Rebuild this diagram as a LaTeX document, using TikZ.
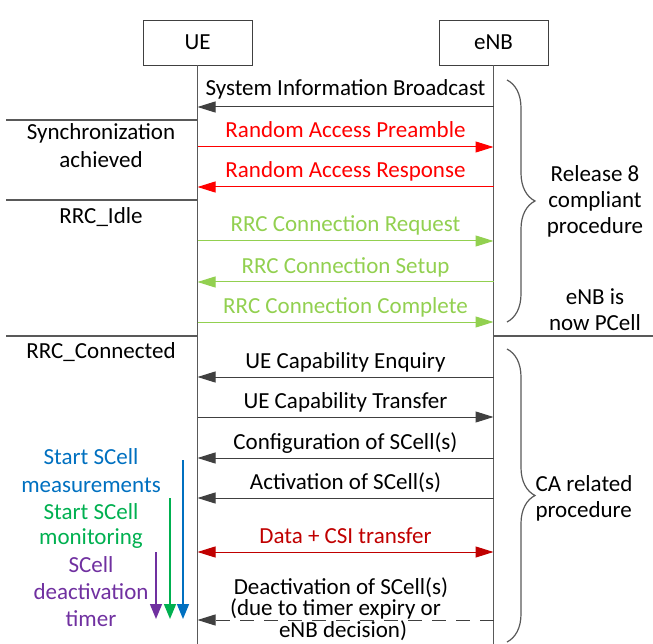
\documentclass[tikz,border=0pt]{standalone}
\usepackage{fontspec}
\setmainfont{Carlito}
\usetikzlibrary{arrows.meta,decorations.pathreplacing}
\definecolor{ln}{HTML}{404040}
\definecolor{lifeg}{HTML}{595959}
\definecolor{rared}{HTML}{FF0000}
\definecolor{rrcg}{HTML}{92D050}
\definecolor{dred}{HTML}{C00000}
\definecolor{sblue}{HTML}{0070C0}
\definecolor{sgreen}{HTML}{00B050}
\definecolor{spurple}{HTML}{7030A0}
\tikzset{
  txt/.style={font=\fontsize{23}{26}\selectfont, inner sep=0pt, text=black},
  actor/.style={draw=ln, line width=0.8pt, minimum width=109pt, minimum height=45pt, font=\fontsize{23}{26}\selectfont},
  life/.style={draw=lifeg, line width=1.2pt},
  sep/.style={draw=lifeg, line width=1.2pt},
  tip/.style={-{Triangle[length=18pt,width=11pt]}},
  msg/.style={tip, draw=ln, color=ln, line width=1pt},
  lbl/.style={txt, anchor=base, yshift=9pt},
  brc/.style={draw=lifeg, line width=1.2pt, decorate, decoration={brace, amplitude=28pt}},
  vtip/.style={-{Triangle[length=15pt,width=12pt]}, line width=1.5pt},
}
\begin{document}
\begin{tikzpicture}[x=1pt,y=-1pt]
\useasboundingbox (0,0) rectangle (653,644);
% actors
\node[actor] (UE) at (197.5,42.5) {UE};
\node[actor] (ENB) at (493.5,42.5) {eNB};
\coordinate (ueEnd) at (197,646);
\coordinate (enbEnd) at (494,646);
\draw[life] (UE.south) -- (UE.south |- ueEnd);
\draw[life] (ENB.south) -- (ENB.south |- enbEnd);
% y levels
\foreach \n/\y in {m1/107, m2/147, m3/187, m4/241, m5/282, m6/322, m7/377, m8/417, m9/458, m10/498, m11/552, m12/620}
  \coordinate (\n) at (0,\y);
% messages
\draw[msg] (ENB.south |- m1) -- node[lbl, yshift=2pt] (t1) {System Information Broadcast} (UE.south |- m1);
\draw[msg, draw=rared, color=rared] (UE.south |- m2) -- node[lbl, text=rared] (t2) {Random Access Preamble} (ENB.south |- m2);
\draw[msg, draw=rared, color=rared] (ENB.south |- m3) -- node[lbl, text=rared] (t3) {Random Access Response} (UE.south |- m3);
\draw[msg, draw=rrcg, color=rrcg] (UE.south |- m4) -- node[lbl, text=rrcg] (t4) {RRC Connection Request} (ENB.south |- m4);
\draw[msg, draw=rrcg, color=rrcg] (ENB.south |- m5) -- node[lbl, text=rrcg] (t5) {RRC Connection Setup} (UE.south |- m5);
\draw[msg, draw=rrcg, color=rrcg] (UE.south |- m6) -- node[lbl, text=rrcg] (t6) {RRC Connection Complete} (ENB.south |- m6);
\draw[msg] (ENB.south |- m7) -- node[lbl] (t7) {UE Capability Enquiry} (UE.south |- m7);
\draw[msg] (UE.south |- m8) -- node[lbl] (t8) {UE Capability Transfer} (ENB.south |- m8);
\draw[msg] (ENB.south |- m9) -- node[lbl] (t9) {Configuration of SCell(s)} (UE.south |- m9);
\draw[msg] (ENB.south |- m10) -- node[lbl] (t10) {Activation of SCell(s)} (UE.south |- m10);
\draw[{Triangle[length=18pt,width=11pt]}-{Triangle[length=18pt,width=11pt]}, draw=dred, color=dred, line width=1pt] (UE.south |- m11) -- node[lbl, text=dred] (t11) {Data + CSI transfer} (ENB.south |- m11);
\draw[msg, dash pattern=on 14pt off 10pt] (ENB.south |- m12) -- (UE.south |- m12);
\node[txt, align=center, font=\fontsize{23}{15}\selectfont] (t12a) at (341,598) {Deactivation of SCell(s)\\(due to timer expiry or\hspace*{11pt}};
\node[txt, anchor=base] (t12c) at (343,637) {eNB decision)};
% separators
\coordinate (s1) at (6,120);
\coordinate (s2) at (6,200);
\coordinate (s3) at (6,336);
\coordinate (s4) at (653,336);
\draw[sep] (s1) -- (UE.south |- s1);
\draw[sep] (s2) -- (UE.south |- s2);
\draw[sep] (s3) -- (UE.south |- s3);
\draw[sep] (ENB.south |- s4) -- (s4);
% left state texts
\node[txt] (st1) at (101,133) {Synchronization};
\node[txt] (st2) at (101,160) {achieved};
\node[txt] (st3) at (101,217) {RRC\_Idle};
\node[txt] (st4) at (101,352) {RRC\_Connected};
% braces
\coordinate (b1a) at (507,80);
\coordinate (b1b) at (507,322);
\coordinate (b2a) at (507,349);
\coordinate (b2b) at (507,642);
\draw[brc] (b1a) -- (b1b);
\draw[brc] (b2a) -- (b2b);
\node[txt, align=center] (r8) at (595,201) {Release 8\\compliant\\procedure};
\node[txt, align=center] (pc) at (595,310) {eNB is\\now PCell};
\node[txt, align=left] (ca) at (584,498) {CA related\\procedure};
% left coloured annotations
\node[txt, text=sblue] (a1) at (91,457) {Start SCell};
\node[txt, text=sblue] (a2) at (91,485) {measurements};
\node[txt, text=sgreen] (a3) at (91,512) {Start SCell};
\node[txt, text=sgreen] (a4) at (91,539) {monitoring};
\node[txt, text=spurple] (a5) at (91,565) {SCell};
\node[txt, text=spurple] (a6) at (91,592) {deactivation};
\node[txt, text=spurple] (a7) at (91,619) {timer};
\coordinate (vb1) at (183,460);
\coordinate (vb2) at (183,619);
\coordinate (vg1) at (170,498);
\coordinate (vg2) at (170,619);
\coordinate (vp1) at (156,552);
\coordinate (vp2) at (156,619);
\draw[vtip, draw=sblue, color=sblue] (vb1) -- (vb2);
\draw[vtip, draw=sgreen, color=sgreen] (vg1) -- (vg2);
\draw[vtip, draw=spurple, color=spurple] (vp1) -- (vp2);
\end{tikzpicture}
\end{document}
